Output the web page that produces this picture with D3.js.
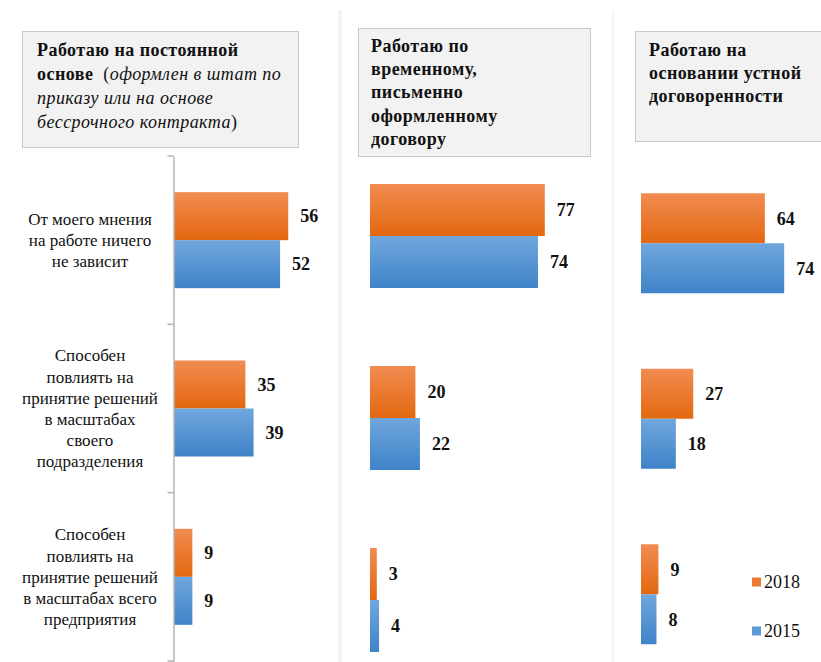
<!DOCTYPE html>
<html><head><meta charset="utf-8">
<script src="https://cdn.jsdelivr.net/npm/d3@7/dist/d3.min.js"></script>
<style>body{margin:0;background:#fff}svg{display:block}
svg text{font-family:"Liberation Serif","Times New Roman","DejaVu Serif",serif}</style>
</head><body>
<svg id="c" width="821" height="662"></svg>
<script>
// ---- data ----
const categories = [
  ["От моего мнения", "на работе ничего", "не зависит"],
  ["Способен", "повлиять на", "принятие решений", "в масштабах", "своего", "подразделения"],
  ["Способен", "повлиять на", "принятие решений", "в масштабах всего", "предприятия"]
];
const series = ["2018", "2015"];
const permanent2018 = [56, 35, 9];
const permanent2015 = [52, 39, 9];
const temporary2018 = [77, 20, 3];
const temporary2015 = [74, 22, 4];
const verbal2018 = [64, 27, 9];
const verbal2015 = [74, 18, 8];
const titlePermanent = [
  [{t:"Работаю на постоянной", b:true}],
  [{t:"основе", b:true}, {t:"  (", b:false}, {t:"оформлен в штат по", i:true}],
  [{t:"приказу или на основе", i:true}],
  [{t:"бессрочного контракта", i:true}, {t:")", b:false}]
];
const titleTemporary = ["Работаю по", "временному,", "письменно", "оформленному", "договору"];
const titleVerbal = ["Работаю на", "основании устной", "договоренности"];

// ---- layout ----
const svg = d3.select("#c");
const defs = svg.append("defs");
function grad(id, c1, c2){
  const g = defs.append("linearGradient").attr("id", id).attr("x1",0).attr("y1",0).attr("x2",0).attr("y2",1);
  g.append("stop").attr("offset","0%").attr("stop-color",c1);
  g.append("stop").attr("offset","100%").attr("stop-color",c2);
}
grad("gO", "#f18c52", "#e3680f");
grad("gB", "#70a7dd", "#3f83c8");
const color = {"2018":"url(#gO)", "2015":"url(#gB)"};
const legendColor = {"2018":"#ec7a34", "2015":"#5b9ad5"};

// separators
[[339.5,"#ececec"],[341.5,"#f3f3f3"],[613,"#f2f2f2"]].forEach(([x,c])=>{
  svg.append("line").attr("x1",x).attr("x2",x).attr("y1",10).attr("y2",662)
    .attr("stroke",c).attr("stroke-width",1.6);
});

function box(x,y,w,h){
  svg.append("rect").attr("x",x+0.5).attr("y",y+0.5).attr("width",w).attr("height",h)
    .attr("fill","#f2f2f2").attr("stroke","#c9c9c9").attr("stroke-width",1);
}
// title 1 (mixed styles)
box(22,31,276,116);
(function(){
  const t = svg.append("text").attr("font-size",18).attr("letter-spacing",0.45)
    .attr("fill","#111").style("white-space","pre");
  titlePermanent.forEach((ln,i)=>{
    ln.forEach((s,j)=>{
      const sp = t.append("tspan").text(s.t)
        .attr("font-weight", s.b?"bold":"normal").attr("font-style", s.i?"italic":"normal");
      if(j===0) sp.attr("x",37).attr("y",56+i*24);
    });
  });
})();
function titleSimple(x,y,w,h,tx,ty,lh,lines){
  box(x,y,w,h);
  const t = svg.append("text").attr("font-size",18).attr("letter-spacing",0.45)
    .attr("font-weight","bold").attr("fill","#111");
  lines.forEach((l,i)=>t.append("tspan").attr("x",tx).attr("y",ty+i*lh).text(l));
}
titleSimple(358, 28, 232, 128, 371, 52, 23.2, titleTemporary);
titleSimple(635, 31, 200, 110, 649, 56, 23, titleVerbal);

// panels
const panels = [
  {v18: permanent2018, v15: permanent2015, x0:174, w:204, y0:156, y1:661, barH:48, axis:true},
  {v18: temporary2018, v15: temporary2015, x0:370, w:227, y0:145, y1:691, barH:52, axis:false},
  {v18: verbal2018, v15: verbal2015, x0:641, w:193.5, y0:155.5, y1:682, barH:50, axis:false}
];
const idx = categories.map((d,i)=>i);
panels.forEach(p=>{
  const x = d3.scaleLinear().domain([0,100]).range([p.x0, p.x0+p.w]);
  const y = d3.scaleBand().domain(idx).range([p.y0, p.y1]).padding(0);
  const pad = (y.bandwidth()/p.barH - 2)/2;
  const ys = d3.scaleBand().domain(series).range([0, y.bandwidth()]).paddingInner(0).paddingOuter(pad);
  const g = svg.append("g");
  idx.forEach(i=>{
    const vals = {"2018": p.v18[i], "2015": p.v15[i]};
    series.forEach(s=>{
      g.append("rect").attr("x", x(0)).attr("y", y(i)+ys(s))
        .attr("width", x(vals[s])-x(0)).attr("height", ys.bandwidth())
        .attr("fill", color[s]);
      g.append("text").attr("x", x(vals[s])+12).attr("y", y(i)+ys(s)+ys.bandwidth()/2)
        .attr("dy","0.35em").attr("font-weight","bold")
        .attr("font-size",18).attr("fill","#111").text(vals[s]);
    });
  });
  if(p.axis){
    const ax = d3.axisLeft(y).tickSize(0).tickFormat("");
    const ag = svg.append("g").attr("transform",`translate(${p.x0-0.5},0)`).call(ax);
    ag.select(".domain").attr("stroke","#b4b4b4").attr("stroke-width",1.5);
    const bounds = idx.map(i=>y(i)).concat([p.y1]);
    ag.selectAll(".bt").data(bounds).enter().append("line")
      .attr("x1",-6).attr("x2",0).attr("y1",d=>d).attr("y2",d=>d)
      .attr("stroke","#b4b4b4").attr("stroke-width",1.5);
    ag.append("line").attr("x1",0).attr("x2",0).attr("y1",p.y1).attr("y2",662)
      .attr("stroke","#b4b4b4").attr("stroke-width",1.5);
    idx.forEach(i=>{
      const lines = categories[i];
      const lh = 21.2;
      const cy = y(i)+y.bandwidth()/2;
      const t = svg.append("text").attr("font-size",17)
        .attr("fill","#111").attr("text-anchor","middle");
      lines.forEach((l,k)=>{
        t.append("tspan").attr("x",90).attr("y", cy + (k-(lines.length-1)/2)*lh).attr("dy","0.35em").text(l);
      });
    });
  }
});

// legend
const lg = svg.append("g");
series.forEach((s,i)=>{
  const yy = 582 + i*49;
  lg.append("rect").attr("x",752).attr("y",yy-4.5).attr("width",9).attr("height",9).attr("fill",legendColor[s]);
  lg.append("text").attr("x",764).attr("y",yy).attr("dy","0.35em")
    .attr("font-size",18).attr("fill","#111").text(s);
});
</script>
</body></html>
